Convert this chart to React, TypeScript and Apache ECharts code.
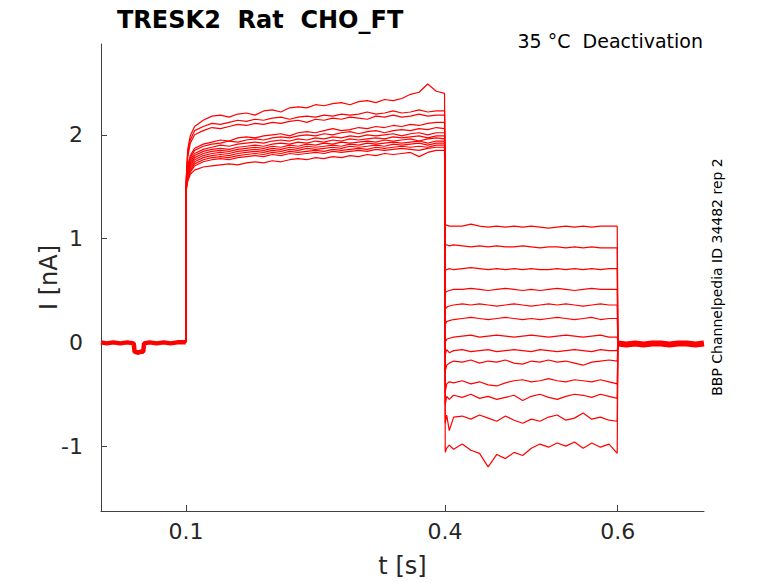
import React, { useEffect, useRef } from 'react';
import * as echarts from 'echarts';

const FONT = '"DejaVu Sans", sans-serif';
const RED = '#ff0000';
const AXIS = '#404040';

// holding current before the prepulse, shared by every sweep (drawn as one band)
const HOLD_T = [0.0016, 0.008, 0.016, 0.024, 0.032, 0.0395, 0.0405, 0.044, 0.048, 0.0505, 0.0515, 0.058, 0.066, 0.074, 0.082, 0.09, 0.0997];
const HOLD_I = [0.0, -0.01, 0.0, -0.01, 0.0, -0.01, -0.09, -0.1, -0.09, -0.09, -0.01, 0.0, -0.01, 0.0, -0.01, 0.0, 0.0];

// current after the test step
const TAIL_T = [0.6003, 0.61, 0.62, 0.63, 0.64, 0.65, 0.66, 0.67, 0.68, 0.69, 0.7];
const TAIL_I = [-0.01, -0.02, -0.01, -0.02, -0.01, -0.01, -0.02, -0.01, -0.01, -0.02, -0.01];

// prepulse 0.1 - 0.4 s
const PRE_T = [0.1003, 0.102, 0.105, 0.11, 0.12, 0.13, 0.14, 0.15, 0.16, 0.17, 0.18, 0.19, 0.2, 0.21, 0.22, 0.23, 0.24, 0.25, 0.26, 0.27, 0.28, 0.29, 0.3, 0.31, 0.32, 0.33, 0.34, 0.35, 0.36, 0.37, 0.38, 0.39, 0.3995];
const PRE_I = [
  [1.58, 1.86, 1.99, 2.08, 2.14, 2.18, 2.19, 2.17, 2.2, 2.21, 2.19, 2.23, 2.24, 2.22, 2.26, 2.27, 2.26, 2.29, 2.28, 2.3, 2.31, 2.29, 2.32, 2.33, 2.31, 2.34, 2.33, 2.35, 2.39, 2.41, 2.49, 2.42, 2.4],
  [1.56, 1.82, 1.95, 2.04, 2.08, 2.11, 2.1, 2.12, 2.14, 2.13, 2.15, 2.14, 2.16, 2.17, 2.15, 2.17, 2.18, 2.17, 2.19, 2.18, 2.2, 2.19, 2.2, 2.22, 2.2, 2.21, 2.23, 2.21, 2.22, 2.24, 2.22, 2.23, 2.23],
  [1.55, 1.78, 1.92, 2.0, 2.04, 2.07, 2.06, 2.08, 2.1, 2.09, 2.11, 2.1, 2.12, 2.11, 2.13, 2.14, 2.12, 2.15, 2.14, 2.16, 2.15, 2.17, 2.16, 2.15, 2.18, 2.17, 2.19, 2.17, 2.18, 2.2, 2.18, 2.19, 2.19],
  [1.54, 1.7, 1.8, 1.87, 1.91, 1.93, 1.95, 1.94, 1.97, 1.98, 1.97, 1.99, 2.0, 2.01, 1.99, 2.02, 2.03, 2.02, 2.04, 2.06, 2.04, 2.05, 2.07, 2.06, 2.08, 2.07, 2.09, 2.08, 2.1, 2.09, 2.11, 2.12, 2.12],
  [1.53, 1.68, 1.78, 1.85, 1.89, 1.91, 1.92, 1.94, 1.93, 1.95, 1.96, 1.95, 1.97, 1.98, 1.97, 1.99, 2.0, 1.99, 2.01, 2.0, 2.02, 2.03, 2.01, 2.03, 2.04, 2.02, 2.04, 2.05, 2.04, 2.06, 2.05, 2.07, 2.06],
  [1.52, 1.66, 1.76, 1.82, 1.86, 1.88, 1.9, 1.89, 1.91, 1.92, 1.93, 1.92, 1.94, 1.95, 1.94, 1.96, 1.95, 1.97, 1.96, 1.98, 1.97, 1.99, 1.98, 2.0, 1.99, 2.0, 2.01, 1.99, 2.01, 2.02, 2.0, 2.02, 2.02],
  [1.51, 1.64, 1.74, 1.8, 1.84, 1.86, 1.87, 1.86, 1.88, 1.89, 1.9, 1.89, 1.91, 1.92, 1.91, 1.93, 1.92, 1.94, 1.93, 1.95, 1.94, 1.96, 1.95, 1.96, 1.97, 1.96, 1.98, 1.97, 1.98, 1.99, 1.97, 1.99, 1.99],
  [1.5, 1.62, 1.72, 1.78, 1.82, 1.84, 1.85, 1.84, 1.86, 1.87, 1.88, 1.87, 1.89, 1.88, 1.9, 1.89, 1.91, 1.9, 1.92, 1.91, 1.93, 1.92, 1.93, 1.94, 1.93, 1.95, 1.94, 1.95, 1.96, 1.94, 1.96, 1.97, 1.96],
  [1.5, 1.61, 1.7, 1.76, 1.8, 1.82, 1.83, 1.82, 1.84, 1.85, 1.86, 1.85, 1.87, 1.86, 1.88, 1.87, 1.89, 1.88, 1.89, 1.9, 1.89, 1.91, 1.9, 1.92, 1.91, 1.92, 1.93, 1.92, 1.93, 1.94, 1.92, 1.94, 1.94],
  [1.49, 1.6, 1.68, 1.74, 1.78, 1.8, 1.81, 1.8, 1.82, 1.83, 1.84, 1.83, 1.85, 1.84, 1.86, 1.85, 1.87, 1.86, 1.87, 1.88, 1.87, 1.89, 1.88, 1.89, 1.9, 1.89, 1.91, 1.9, 1.91, 1.92, 1.9, 1.92, 1.92],
  [1.48, 1.58, 1.66, 1.72, 1.76, 1.78, 1.79, 1.78, 1.8, 1.81, 1.82, 1.81, 1.83, 1.82, 1.84, 1.83, 1.84, 1.85, 1.84, 1.86, 1.85, 1.86, 1.87, 1.86, 1.88, 1.87, 1.88, 1.89, 1.88, 1.89, 1.88, 1.9, 1.9],
  [1.47, 1.57, 1.64, 1.7, 1.74, 1.76, 1.77, 1.76, 1.78, 1.79, 1.8, 1.79, 1.81, 1.8, 1.82, 1.81, 1.82, 1.83, 1.82, 1.84, 1.83, 1.84, 1.85, 1.84, 1.86, 1.85, 1.86, 1.87, 1.86, 1.85, 1.87, 1.88, 1.88],
  [1.46, 1.55, 1.62, 1.66, 1.69, 1.7, 1.71, 1.72, 1.71, 1.73, 1.74, 1.73, 1.75, 1.74, 1.76, 1.77, 1.76, 1.78, 1.77, 1.79, 1.78, 1.8, 1.79, 1.81, 1.8, 1.82, 1.81, 1.82, 1.83, 1.79, 1.83, 1.85, 1.85],
];

// test steps 0.4 - 0.6 s
const TEST_T = [0.4003, 0.402, 0.405, 0.41, 0.42, 0.43, 0.44, 0.45, 0.46, 0.47, 0.48, 0.49, 0.5, 0.51, 0.52, 0.53, 0.54, 0.55, 0.56, 0.57, 0.58, 0.59, 0.5995];
const TEST_I = [
  [1.13, 1.13, 1.12, 1.12, 1.12, 1.14, 1.12, 1.11, 1.12, 1.11, 1.12, 1.11, 1.12, 1.11, 1.1, 1.11, 1.12, 1.11, 1.12, 1.11, 1.12, 1.12, 1.12],
  [0.94, 0.94, 0.93, 0.94, 0.93, 0.92, 0.93, 0.92, 0.93, 0.92, 0.92, 0.93, 0.92, 0.91, 0.92, 0.92, 0.91, 0.92, 0.91, 0.92, 0.91, 0.91, 0.91],
  [0.7, 0.7, 0.71, 0.7, 0.71, 0.72, 0.71, 0.7, 0.71, 0.7, 0.71, 0.7, 0.71, 0.7, 0.7, 0.71, 0.7, 0.71, 0.7, 0.71, 0.7, 0.71, 0.71],
  [0.48, 0.49, 0.5, 0.51, 0.51, 0.52, 0.51, 0.5, 0.51, 0.52, 0.51, 0.5, 0.51, 0.5, 0.51, 0.52, 0.51, 0.5, 0.51, 0.52, 0.51, 0.51, 0.51],
  [0.32, 0.34, 0.35, 0.36, 0.37, 0.36, 0.37, 0.36, 0.35, 0.36, 0.37, 0.36, 0.35, 0.36, 0.37, 0.36, 0.37, 0.36, 0.35, 0.36, 0.37, 0.36, 0.36],
  [0.17, 0.2, 0.21, 0.22, 0.23, 0.24, 0.23, 0.22, 0.23, 0.24, 0.23, 0.22, 0.23, 0.22, 0.23, 0.24, 0.23, 0.22, 0.23, 0.24, 0.22, 0.23, 0.23],
  [0.0, 0.03, 0.04, 0.05, 0.06, 0.07, 0.05, 0.06, 0.07, 0.06, 0.05, 0.06, 0.07, 0.06, 0.05, 0.06, 0.07, 0.06, 0.05, 0.06, 0.07, 0.05, 0.05],
  [-0.12, -0.07, -0.1, -0.08, -0.07, -0.09, -0.08, -0.07, -0.09, -0.08, -0.07, -0.08, -0.09, -0.07, -0.08, -0.09, -0.08, -0.07, -0.08, -0.09, -0.07, -0.08, -0.08],
  [-0.28, -0.22, -0.2, -0.18, -0.19, -0.17, -0.2, -0.18, -0.19, -0.17, -0.2, -0.21, -0.18, -0.19, -0.17, -0.19, -0.18, -0.2, -0.22, -0.19, -0.18, -0.17, -0.18],
  [-0.48, -0.4, -0.38, -0.39, -0.37, -0.4, -0.38, -0.41, -0.42, -0.39, -0.37, -0.36, -0.38, -0.37, -0.35, -0.37, -0.38, -0.36, -0.37, -0.38, -0.36, -0.38, -0.4],
  [-0.6, -0.52, -0.55, -0.51, -0.53, -0.5, -0.54, -0.52, -0.55, -0.53, -0.51, -0.56, -0.52, -0.5, -0.53, -0.55, -0.52, -0.5, -0.51, -0.53, -0.5, -0.52, -0.54],
  [-0.78, -0.7, -0.85, -0.72, -0.71, -0.74, -0.7, -0.73, -0.76, -0.71, -0.75, -0.78, -0.74, -0.76, -0.72, -0.7, -0.75, -0.73, -0.68, -0.74, -0.72, -0.75, -0.76],
  [-1.06, -1.02, -0.99, -1.03, -0.98, -1.04, -1.07, -1.2, -1.08, -1.12, -1.06, -1.09, -1.02, -0.98, -1.01, -0.97, -1.0, -0.96, -1.02, -0.97, -1.01, -0.98, -1.07],
];

const X_TICKS = [0.1, 0.4, 0.6];
const Y_TICKS = [-1, 0, 1, 2];

const pairs = (ts: number[], vs: number[]) => ts.map((t, i) => [t, vs[i]]);

export default function App() {
  const chartRef = useRef<HTMLDivElement>(null);

  useEffect(() => {
    const chart = echarts.init(chartRef.current, null, { renderer: 'svg' });

    const sweeps = PRE_I.map((pre, k) => ({
      type: 'line',
      data: [
        [0.0997, 0],
        ...pairs(PRE_T, pre),
        ...pairs(TEST_T, TEST_I[k]),
        [0.6003, TAIL_I[0]],
      ],
      showSymbol: false,
      symbol: 'none',
      lineStyle: { color: RED, width: 1.2 },
      silent: true,
    }));

    const option = {
      animation: false,
      title: {
        text: 'TRESK2  Rat  CHO_FT',
        left: 112,
        top: 3,
        textStyle: { fontFamily: FONT, fontSize: 24, fontWeight: 'bold', color: '#000' },
      },
      grid: { left: 101, right: 74, top: 44, bottom: 71 },
      xAxis: {
        type: 'value',
        min: 0.0016,
        max: 0.7,
        name: 't [s]',
        nameLocation: 'middle',
        nameGap: 43,
        nameMoveOverlap: false,
        nameTextStyle: { fontFamily: FONT, fontSize: 24, color: '#262626' },
        axisLine: { show: true, onZero: false, lineStyle: { color: AXIS, width: 1 } },
        axisTick: { show: true, inside: true, length: 6, customValues: X_TICKS, lineStyle: { color: AXIS } },
        axisLabel: {
          customValues: X_TICKS,
          margin: 9,
          fontFamily: FONT,
          fontSize: 22,
          color: '#262626',
          formatter: (v: number) => v.toFixed(1),
        },
        splitLine: { show: false },
      },
      yAxis: {
        type: 'value',
        min: -1.625,
        max: 2.875,
        name: 'I [nA]',
        nameLocation: 'middle',
        nameGap: 40,
        nameMoveOverlap: false,
        nameTextStyle: { fontFamily: FONT, fontSize: 24, color: '#262626' },
        axisLine: { show: true, onZero: false, lineStyle: { color: AXIS, width: 1 } },
        axisTick: { show: true, inside: true, length: 6, customValues: Y_TICKS, lineStyle: { color: AXIS } },
        axisLabel: {
          customValues: Y_TICKS,
          margin: 18,
          fontFamily: FONT,
          fontSize: 22,
          color: '#262626',
        },
        splitLine: { show: false },
      },
      graphic: [
        {
          type: 'text',
          x: 703,
          y: 41,
          style: {
            text: '35 °C  Deactivation',
            fontFamily: FONT,
            fontSize: 19,
            fill: '#000',
            align: 'right',
            verticalAlign: 'middle',
          },
        },
        {
          type: 'text',
          x: 717,
          y: 277,
          rotation: Math.PI / 2,
          style: {
            text: 'BBP Channelpedia ID 34482 rep 2',
            fontFamily: FONT,
            fontSize: 14,
            fill: '#000',
            align: 'center',
            verticalAlign: 'middle',
          },
        },
      ],
      series: [
        {
          type: 'line',
          data: pairs(HOLD_T, HOLD_I),
          symbol: 'none',
          lineStyle: { color: RED, width: 4.5 },
          silent: true,
        },
        {
          type: 'line',
          data: pairs(TAIL_T, TAIL_I),
          symbol: 'none',
          lineStyle: { color: RED, width: 6 },
          silent: true,
        },
        ...sweeps,
      ],
    };

    chart.setOption(option);
    return () => {
      chart.dispose();
    };
  }, []);

  return (
    <div
      ref={chartRef}
      style={{ position: 'fixed', left: 0, top: 0, width: '778px', height: '583px', background: '#fff' }}
    ></div>
  );
}
